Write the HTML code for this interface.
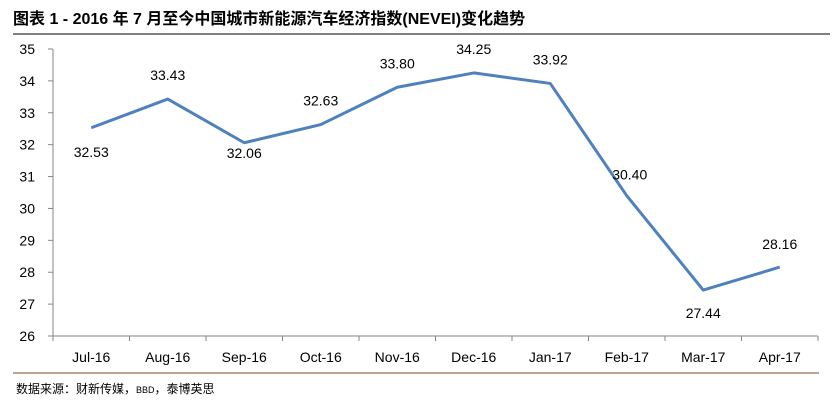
<!DOCTYPE html>
<html><head><meta charset="utf-8"><style>
body{margin:0;background:#fff;}
svg text{font-family:"Liberation Sans","Noto Sans CJK SC",sans-serif;}
</style></head><body>
<svg width="837" height="409" xmlns="http://www.w3.org/2000/svg">
<text x="13" y="24" font-size="16" font-weight="bold" fill="#000">图表 1 - 2016 年 7 月至今中国城市新能源汽车经济指数(NEVEI)变化趋势</text>
<line x1="13" y1="34" x2="830" y2="34" stroke="#000" stroke-width="1"/>
<g id="axes"></g>
<g id="marks"></g>
<line x1="13" y1="373" x2="819" y2="373" stroke="#7a4a2a" stroke-width="1"/>
<text x="16" y="393" font-size="12" fill="#000">数据来源：财新传媒，<tspan font-size="9">BBD</tspan>，泰博英思</text>
</svg>
<script>
const categories=["Jul-16","Aug-16","Sep-16","Oct-16","Nov-16","Dec-16","Jan-17","Feb-17","Mar-17","Apr-17"];
const values=[32.53,33.43,32.06,32.63,33.80,34.25,33.92,30.40,27.44,28.16];
const valueLabels=["32.53","33.43","32.06","32.63","33.80","34.25","33.92","30.40","27.44","28.16"];
const yTicks=[26,27,28,29,30,31,32,33,34,35];
const labelDy=[24,-24,10,-24,-24,-24,-24,-21,23,-23];
const NS="http://www.w3.org/2000/svg";
const x0=53,x1=818,yTop=49,yBot=336,ymin=26,ymax=35;
const band=(x1-x0)/categories.length;
const xs=i=>x0+band*(i+0.5);
const ys=v=>yBot-(v-ymin)/(ymax-ymin)*(yBot-yTop);
const axes=document.getElementById('axes'),marks=document.getElementById('marks');
function mk(tag,attrs,parent){const e=document.createElementNS(NS,tag);for(const k in attrs)e.setAttribute(k,attrs[k]);parent.appendChild(e);return e;}
let e=mk('line',{x1:x0,y1:yTop,x2:x0,y2:yBot,stroke:'#868686'},axes);


e=mk('line',{x1:x0,y1:yBot,x2:x1,y2:yBot,stroke:'#868686'},axes);


yTicks.forEach(t=>{
 const y=ys(t);
 let l=mk('line',{x1:x0-5,y1:y,x2:x0,y2:y,stroke:'#868686'},axes);
 
 
 let tx=mk('text',{x:35,y:y+5,'font-size':14,'text-anchor':'end',fill:'#000'},axes);
 tx.textContent=t;
 
 
});
for(let i=0;i<=categories.length;i++){
 const x=x0+band*i;
 let l=mk('line',{x1:x,y1:yBot,x2:x,y2:yBot+5,stroke:'#868686'},axes);
 
 
}
categories.forEach((c,i)=>{
 let tx=mk('text',{x:xs(i),y:yBot+26,'font-size':14,'text-anchor':'middle',fill:'#000'},axes);
 tx.textContent=c;
 
 
});
const pts=values.map((v,i)=>xs(i)+','+ys(v)).join(' ');
let pl=mk('polyline',{points:pts,fill:'none',stroke:'#4f81bd','stroke-width':3,'stroke-linejoin':'round'},marks);


values.forEach((v,i)=>{
 let tx=mk('text',{x:xs(i)+(i===7?3:0),y:ys(v)+labelDy[i]+5,'font-size':14,'text-anchor':'middle',fill:'#000'},marks);
 tx.textContent=valueLabels[i];
 
 
});
</script>
</body></html>
